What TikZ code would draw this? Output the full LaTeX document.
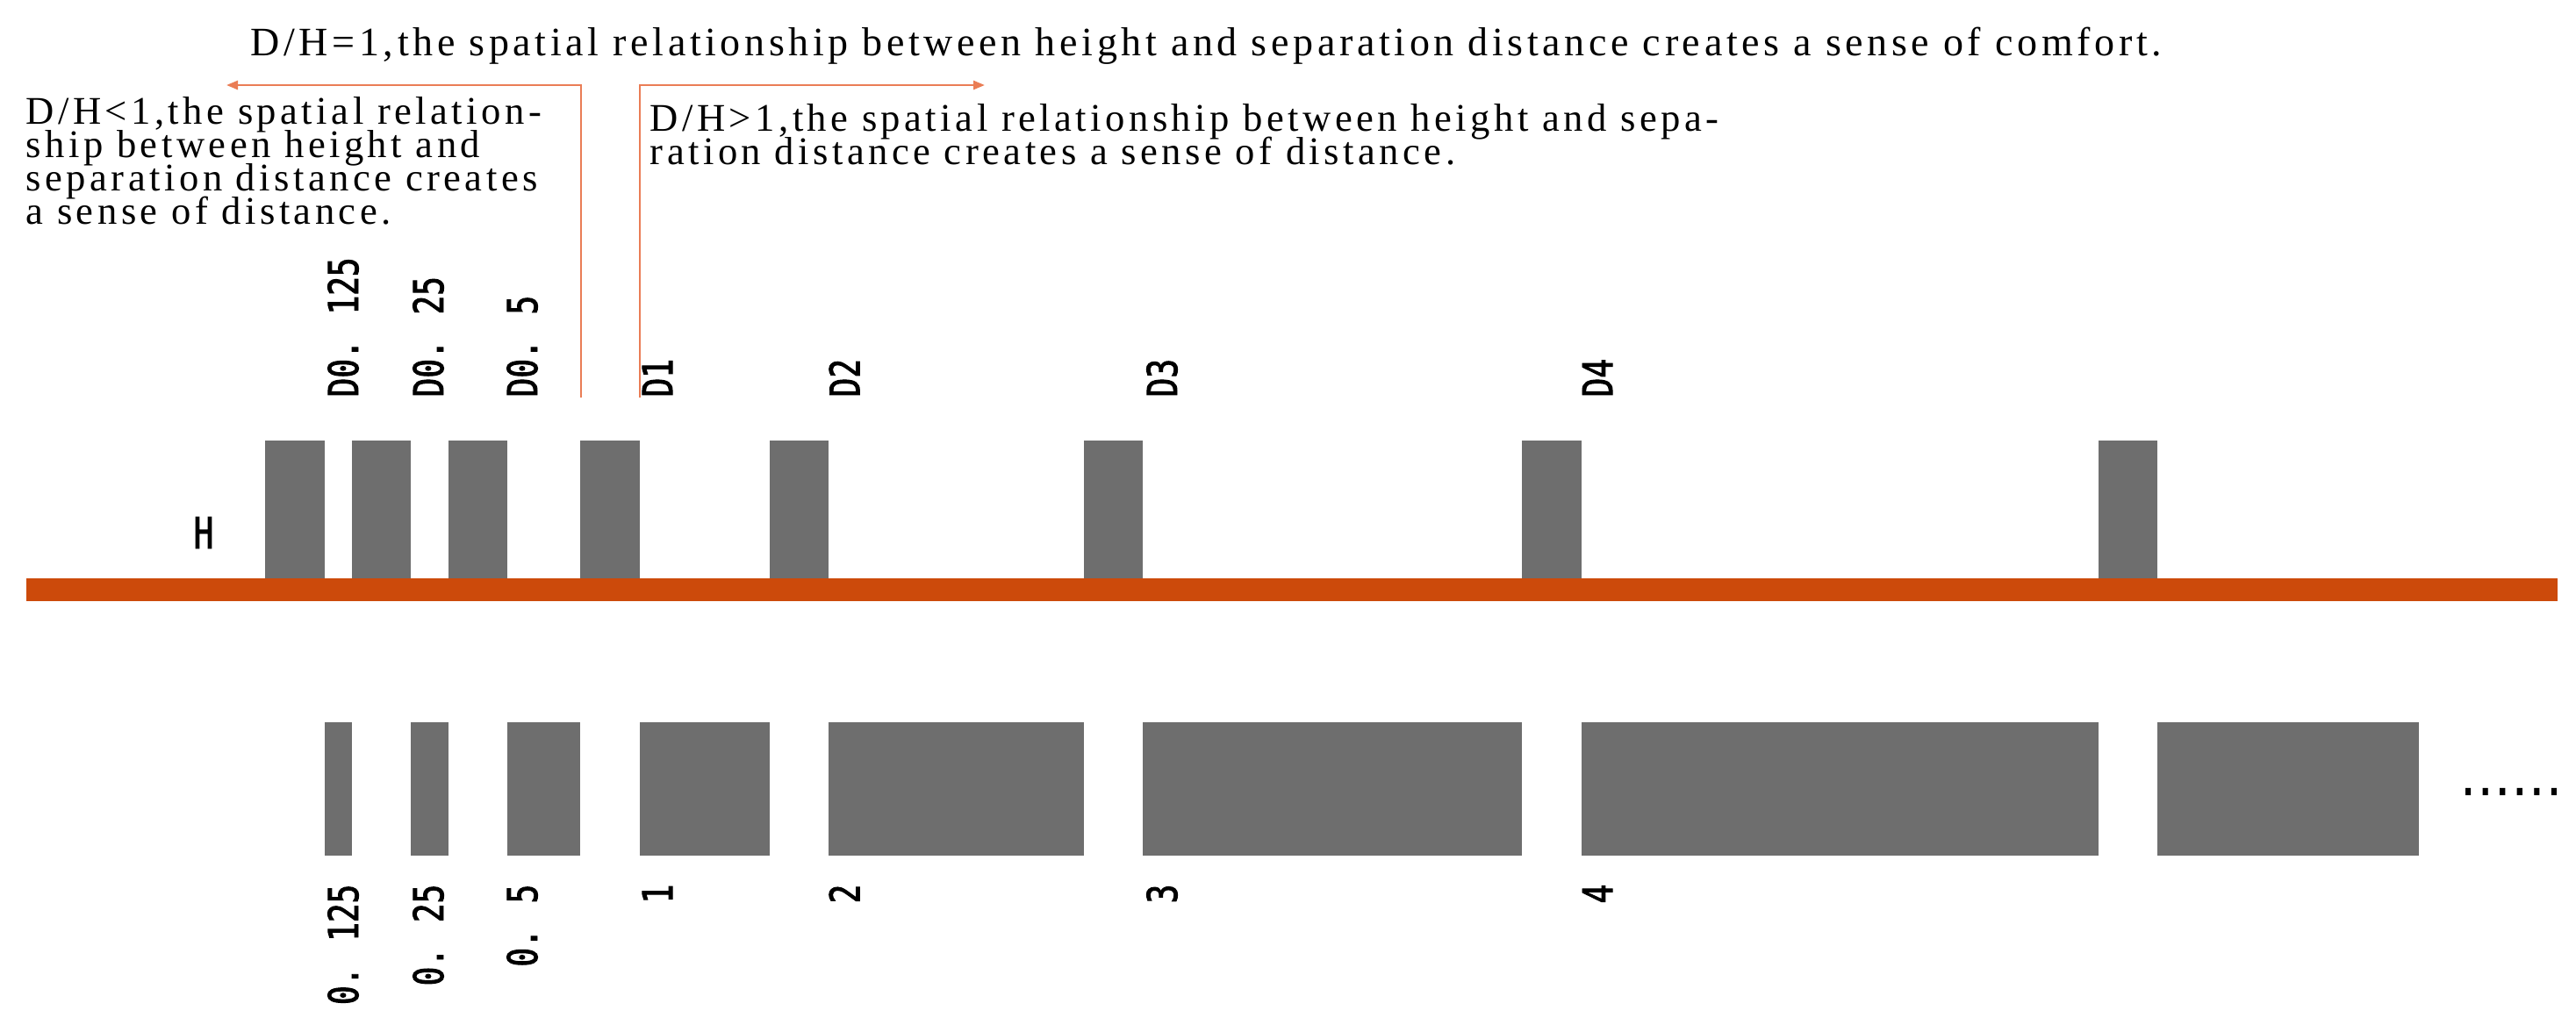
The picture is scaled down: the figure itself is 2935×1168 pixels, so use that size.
\documentclass[tikz,border=0pt]{standalone}
\usepackage{fontspec}
\setmainfont{Liberation Serif}
\newfontfamily\txtfont[LetterSpace=10]{Liberation Serif}
\newfontfamily\labfont[FakeStretch=0.77,FakeBold=2]{DejaVu Sans Mono}
\usetikzlibrary{arrows.meta}
\definecolor{bargray}{RGB}{110,110,110}
\definecolor{band}{RGB}{204,74,11}
\definecolor{thinor}{RGB}{234,125,85}
\begin{document}
\begin{tikzpicture}[x=0.1mm,y=-0.1mm,
  lab/.style={font=\labfont\fontsize{13.3}{14}\selectfont, inner sep=0pt, rotate=90},
  txt/.style={font={\txtfont\fontsize{12.7}{10.8}\selectfont\lineskiplimit=-20pt}, inner sep=0pt, align=left},
  guide/.style={draw=thinor, line width=0.25mm, -{Triangle[length=1.3mm,width=1.0mm]}}]
\useasboundingbox (0,0) rectangle (2935,1168);
% top bars (buildings)
\foreach \a/\b in {302/370,401/468,511/578,661/729,877/944,1235/1302,1734/1802,2391/2458}
  \fill[bargray] (\a,502) rectangle (\b,672);
% ground band
\fill[band] (30,659) rectangle (2914,685);
% bottom blocks (distances)
\foreach \a/\b in {370/401,468/511,578/661,729/877,944/1235,1302/1734,1802/2391,2458/2756}
  \fill[bargray] (\a,823) rectangle (\b,975);
% H
\node[font=\labfont\fontsize{14}{14}\selectfont, inner sep=0pt] (H) at (232,607) {H};
% top labels
\node[lab, anchor=west] (d0125) at (391,453) {D0. 125};
\node[lab, anchor=west] (d025) at (488,453) {D0. 25};
\node[lab, anchor=west] (d05) at (595,453) {D0. 5};
\node[lab, anchor=west] (d1) at (749,453) {D1};
\node[lab, anchor=west] (d2) at (962,453) {D2};
\node[lab, anchor=west] (d3) at (1324,453) {D3};
\node[lab, anchor=west] (d4) at (1820,453) {D4};
% bottom labels
\node[lab, anchor=east] (v0125) at (391,1007) {0. 125};
\node[lab, anchor=east] (v025) at (488,1007) {0. 25};
\node[lab, anchor=east] (v05) at (595,1007) {0. 5};
\node[lab, anchor=east] (v1) at (749,1007) {1};
\node[lab, anchor=east] (v2) at (962,1007) {2};
\node[lab, anchor=east] (v3) at (1324,1007) {3};
\node[lab, anchor=east] (v4) at (1820,1007) {4};
\node[font=\labfont\bfseries\fontsize{12}{12}\selectfont, inner sep=0pt] (dots) at (2861,902) {......};
% texts (multi-line nodes: base = baseline of last line)
\node[txt, anchor=base west, font={\txtfont\fontsize{13.1}{10.8}\selectfont}] (teq) at (285,63) {D/H=1,the spatial relationship between height and separation distance creates a sense of comfort.};
\node[txt, anchor=base west] (tlt) at (29,255) {D/H<1,the spatial relation-\\ship between height and\\separation distance creates\\a sense of distance.};
\node[txt, anchor=base west] (tgt) at (740,187) {D/H>1,the spatial relationship between height and sepa-\\ration distance creates a sense of distance.};
% guide arrows
\coordinate (lb) at (662,453); \coordinate (lt) at (662,97); \coordinate (le) at (258,97);
\coordinate (rb) at (729,453); \coordinate (rt) at (729,97); \coordinate (re) at (1122,97);
\draw[guide] (lb) -- (lt) -- (le);
\draw[guide] (rb) -- (rt) -- (re);
\end{tikzpicture}
\end{document}
